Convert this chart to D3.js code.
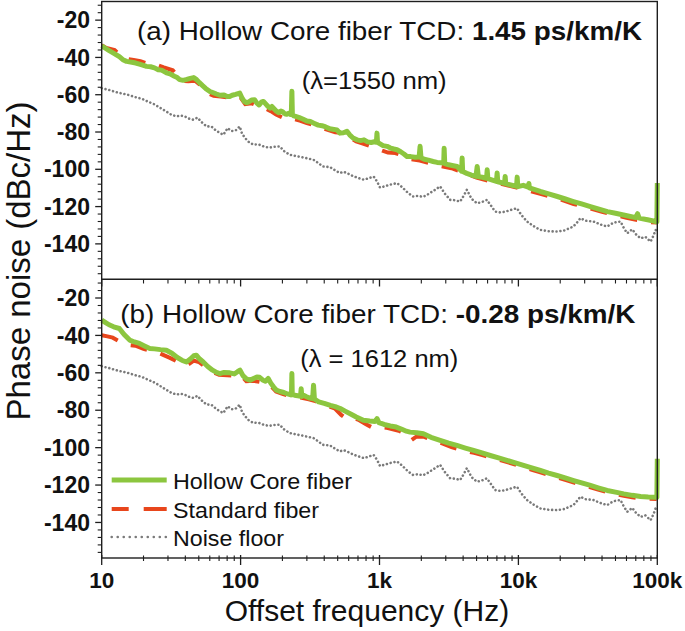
<!DOCTYPE html>
<html><head><meta charset="utf-8">
<script src="https://cdn.jsdelivr.net/npm/d3@7"></script>
<style>html,body{margin:0;padding:0;background:#fff;} svg{display:block;font-family:"Liberation Sans",Arial,Helvetica,sans-serif;}</style>
</head><body><svg id="chart" width="685" height="631"></svg>
<script>
// ---------- DATA ----------
const xTickValues = [10, 100, 1000, 10000, 100000];
const xTickLabels = ["10", "100", "1k", "10k", "100k"];
const yTickValues = [-20, -40, -60, -80, -100, -120, -140];
const seriesNames = ["Hollow Core fiber", "Standard fiber", "Noise floor"];
const panelTitles = [
  {label: "(a) Hollow Core fiber TCD: ", value: "1.45 ps/km/K", wl: "(\u03bb=1550 nm)"},
  {label: "(b) Hollow Core fiber TCD: ", value: "-0.28 ps/km/K", wl: "(\u03bb = 1612 nm)"}
];

// Panel (a) Hollow Core fiber [Hz, dBc/Hz]
const hollowA = [[10,-33.8],[10.7,-35.2],[11.4,-36.5],[12.5,-38.2],[13.4,-39.6],[14.2,-41.2],[15.1,-42.1],[16.5,-42.6],[17.6,-43],[18.7,-43.6],[20,-44.3],[21,-44.8],[22.5,-45],[24,-45.6],[25.5,-46.6],[27,-46.8],[29.3,-48.3],[31,-48.8],[33.4,-50.1],[35,-50.8],[36.4,-51.9],[38.5,-52.3],[41,-51.8],[43.5,-51.2],[45.9,-50.8],[48.2,-51.9],[50.5,-53.5],[53,-55],[56,-56.6],[59.8,-58.2],[63,-58.8],[67,-59.6],[71,-60.3],[76,-60.1],[80,-60.9],[83.4,-61],[87,-60.3],[92,-59.8],[98.5,-59.1],[102,-61.5],[106,-63.5],[110.6,-64.3],[115,-63.8],[120,-62.8],[126,-62.7],[131,-64.5],[136,-65.5],[141,-64],[146,-63.6],[151,-64.8],[157,-66.2],[163,-67.2],[168,-66.3],[174,-67.5],[181,-68.8],[188,-69.6],[195,-68.8],[201,-69.2],[208,-70.2],[215,-70.5],[222,-70],[229,-70.6],[232,-69.5],[234,-58.2],[236,-70.8],[242,-71.4],[252,-71.8],[265,-72.3],[280,-73],[300,-74.1],[318,-74.4],[340,-75.4],[362,-76.3],[385,-76.6],[410,-77.3],[440,-78.3],[470,-78.6],[494,-78.9],[520,-80.6],[550,-80.4],[583,-79.6],[610,-81.5],[645,-83.2],[688,-84.2],[730,-84.6],[773,-84.2],[820,-85.3],[870,-85.6],[920,-85.2],[950,-85.5],[959,-80.6],[968,-85.6],[1010,-86.4],[1060,-87.3],[1133,-87.7],[1200,-88.6],[1270,-89.1],[1337,-89.5],[1420,-90.6],[1500,-91.8],[1578,-93.1],[1680,-93.2],[1800,-93.5],[1930,-93.4],[1959,-87.7],[1990,-93.8],[2100,-94.6],[2250,-95.1],[2432,-95.8],[2600,-96.3],[2780,-96.5],[2900,-96.7],[2920,-88.7],[2950,-97],[3150,-97.6],[3400,-98.1],[3622,-98.5],[3800,-100.2],[3900,-101],[3935,-94],[3970,-101.2],[4250,-102.2],[4600,-103.1],[4950,-103.8],[5050,-98.5],[5150,-104],[5500,-104.3],[5900,-104.8],[5960,-100.3],[6030,-105],[6500,-105.8],[6950,-106.5],[7030,-102],[7100,-106.7],[7600,-107.2],[7950,-107.5],[8030,-103.9],[8110,-107.8],[8800,-108.4],[9700,-109.2],[9800,-104.2],[9900,-109.3],[10830,-108.6],[11800,-109.6],[11900,-107.6],[12000,-110],[14380,-111.9],[16500,-113.2],[19070,-114.6],[21500,-115.8],[24880,-117.3],[28500,-118.6],[33000,-120],[38000,-121.4],[43750,-122.7],[50000,-123.6],[57100,-124.5],[64000,-125.3],[70000,-125.9],[72060,-123.8],[74000,-126.2],[85100,-127.1],[92000,-127.6],[97300,-128],[99300,-128.2],[100000,-107.4]];

// Panel (a) Standard fiber
const standardA = [[10,-33.5],[10.8,-34.9],[12.4,-36.1],[13.5,-38.5],[15,-40.8],[17,-41.4],[19,-42],[21,-43.2],[24.6,-43.8],[28,-45.3],[32.5,-46.9],[35,-49.5],[38,-52.6],[42,-52.8],[47,-52.5],[52,-55.2],[58,-59.2],[64,-60.6],[72,-61],[82,-61.5],[92,-61.2],[100,-61.5],[108,-65],[120,-64.6],[135,-66.2],[150,-67.2],[165,-68.8],[180,-70.6],[200,-72.2],[215,-73.4],[240,-73],[270,-74],[300,-75.2],[340,-76.4],[400,-78.3],[480,-80.2],[540,-80.4],[600,-82.6],[680,-85],[760,-86.2],[850,-87.5],[950,-88.8],[1050,-90],[1150,-91],[1300,-91.3],[1500,-93],[1700,-94.6],[1950,-95.3],[2300,-96.7],[2800,-98.4],[3300,-99.4],[4000,-101.8],[5000,-104.4],[6000,-106],[7000,-107.2],[8300,-108.6],[10000,-110],[11500,-111.2],[14400,-113.2],[19000,-115.6],[25000,-118.6],[32000,-120.7],[40000,-122.8],[50000,-124.5],[60000,-126],[72000,-127.2],[85000,-128.2],[99000,-128.6]];

// Noise floor (same measurement in both panels)
const noiseFloor = [[10,-56.5],[11.5,-57.6],[13,-58.8],[15.4,-60],[17.5,-61.3],[19.5,-62.2],[21.4,-63.6],[24,-65.2],[27.7,-68],[31.7,-70.7],[34.6,-71.6],[37,-71.2],[39.5,-71.6],[42.5,-72.8],[45.6,-73.4],[49,-72.3],[52,-74.5],[56.9,-77],[61.5,-77],[67,-79.4],[75.1,-81.5],[80.7,-77.9],[86,-79.5],[92,-79.2],[98.5,-77],[102,-80.5],[107,-83],[115,-85.5],[123.7,-86.8],[134,-86.6],[146,-87.7],[160,-88.4],[175,-87.9],[191.5,-87.7],[205,-90.2],[226,-92.2],[250,-92.9],[280,-93.6],[310,-94.3],[335,-94.9],[360,-96.5],[391,-98.5],[440,-98.8],[480,-100.6],[519,-102],[550,-101.3],[583,-102],[640,-103.5],[700,-104.6],[773,-105.6],[840,-104.7],[908,-103.9],[960,-106.5],[1008,-109.8],[1080,-109.2],[1180,-108.3],[1337,-107.4],[1450,-109.5],[1600,-112.6],[1745,-114.6],[1900,-114.2],[2050,-114.8],[2201,-113.7],[2450,-111.5],[2733,-109.2],[2950,-113],[3227,-116.4],[3500,-116.6],[3810,-117.3],[4050,-114],[4258,-111],[4600,-115.8],[5027,-118.2],[5450,-117.6],[5934,-116.4],[6350,-119.5],[6812,-122.7],[7500,-123.2],[8400,-122.3],[9200,-121.4],[9772,-120.9],[10500,-124.5],[11535,-128],[12800,-130.4],[14390,-132.5],[16500,-133.2],[18990,-133.4],[21500,-132.8],[23500,-131.5],[24890,-130.7],[26500,-128.4],[27960,-126.2],[30500,-127.6],[34680,-128],[39000,-129.6],[43550,-130.7],[48500,-128.6],[54330,-128],[57500,-131.6],[60750,-134.3],[66000,-132.2],[70500,-135],[75780,-137],[82000,-136.2],[89470,-138.8],[94000,-135.5],[97200,-132.5],[100000,-134]];

// Panel (b) Hollow Core fiber
const hollowB = [[10,-31.8],[10.6,-33],[11.3,-34.3],[12.2,-35.4],[13.4,-36.3],[14.5,-39.5],[15.9,-42.5],[17.2,-43.5],[18.7,-44.3],[20.3,-45.6],[22.2,-47],[24,-47.2],[26.5,-47.6],[29.2,-47.9],[32,-49.5],[35,-51.8],[38,-53.4],[40.7,-54.2],[43.5,-52.6],[46,-50.9],[48,-50.6],[50.5,-52.5],[53.8,-54.2],[58,-56.6],[62.8,-58.6],[67,-59.8],[71,-60.4],[76,-59.8],[83.6,-60],[90,-60.6],[95,-59.4],[99,-58.6],[104,-61.5],[110,-63.2],[117,-64],[124,-63],[131,-62.2],[137,-62.4],[144,-63.8],[151,-64.5],[158,-63],[165,-65.5],[173,-67.6],[181,-69.3],[192,-70],[205,-70.5],[218,-71.3],[230,-71.8],[232.5,-70.5],[234,-60.4],[235.5,-71.5],[245,-72],[258,-72.3],[270,-72.5],[273,-68.5],[276,-72.6],[284,-72],[298,-72.8],[315,-73.5],[330,-73.8],[335,-66.6],[340,-74],[365,-75.5],[400,-76.3],[443,-77.4],[480,-78.1],[522,-79.1],[570,-80.6],[620,-82],[680,-83.6],[765,-85.4],[850,-85.8],[930,-86],[960,-84.5],[990,-86.6],[1080,-87.6],[1196,-88.4],[1320,-89],[1450,-90.2],[1560,-91.2],[1660,-91.7],[1850,-92],[2070,-92.6],[2350,-94.5],[2733,-96.1],[3150,-97.6],[3606,-98.8],[4150,-100.2],[4753,-101.5],[5400,-102.7],[6270,-104.2],[7200,-105.5],[8270,-106.8],[9500,-108.2],[10900,-109.5],[12500,-110.8],[14390,-112.2],[16500,-113.6],[18990,-114.9],[22000,-116.3],[25000,-117.6],[29000,-119],[33030,-120.2],[38000,-121.6],[43550,-122.9],[50000,-123.8],[57410,-124.7],[66000,-125.5],[75780,-126.1],[86000,-126.4],[97200,-126.5],[99300,-126.6],[100000,-105.9]];

// Panel (b) Standard fiber
const standardB = [[10,-39.9],[11,-40.5],[12,-41.2],[13.3,-43],[14.5,-44.5],[16,-45.2],[17.5,-45.5],[20,-47.2],[22,-48],[24.7,-48.8],[27.7,-50.4],[31,-52],[35,-54],[39,-56],[42,-55.5],[46,-53.5],[50,-54.2],[55,-56.5],[62,-59.5],[70,-61],[80,-61.3],[90,-61.5],[100,-61.2],[110,-64.5],[125,-64.3],[140,-65],[160,-66],[180,-70],[200,-71.2],[230,-72.6],[270,-73.2],[310,-74.2],[350,-75.3],[420,-77.5],[480,-79.2],[530,-82.5],[560,-83.8],[600,-83],[700,-85],[800,-87.5],[900,-89.5],[1000,-89],[1150,-89.5],[1400,-91.2],[1600,-93.5],[1700,-96],[1850,-94],[2100,-94.2],[2500,-96.5],[2800,-97.6],[3300,-99.7],[4000,-101.5],[4800,-102.8],[5500,-104],[6300,-105.2],[7500,-106.8],[8300,-107.7],[9500,-109],[10900,-110.5],[12500,-111.8],[14400,-113.2],[16500,-114.6],[19000,-116],[22000,-117.4],[25500,-118.8],[29000,-120.1],[33000,-121.2],[38000,-122.5],[43500,-123.8],[50000,-124.8],[57400,-125.8],[66000,-126.6],[76000,-127.2],[86000,-127.3],[99000,-127.5]];

// ---------- DRAWING ----------
const COLORS = {hollow: "#8cc63f", standard: "#e8461c", noise: "#7a7a7a", axis: "#1e1e1e"};
const svg = d3.select("#chart");
const L = 101.7, R = 657.3;
const x = d3.scaleLog().domain([10, 1e5]).range([L, R]);
const panels = [
  {top: 1.5, bottom: 279.3, hollow: hollowA, standard: standardA, noise: noiseFloor, title: panelTitles[0]},
  {top: 279.3, bottom: 558, hollow: hollowB, standard: standardB, noise: noiseFloor, title: panelTitles[1]}
];
panels.forEach(p => { p.y = d3.scaleLinear().domain([-159, -10]).range([p.bottom, p.top]); });

const minorX = [];
[10, 100, 1000, 10000].forEach(d => { for (let k = 2; k <= 9; k++) minorX.push(d * k); });

panels.forEach((p, i) => {
  const g = svg.append("g");
  const line = d3.line().x(d => x(d[0])).y(d => p.y(d[1]));
  g.append("path").datum(p.noise).attr("d", line).attr("fill", "none")
    .attr("stroke", COLORS.noise).attr("stroke-width", 2.6).attr("stroke-linecap", "round")
    .attr("stroke-dasharray", "0.01,3.9");
  g.append("path").datum(p.standard).attr("d", line).attr("fill", "none")
    .attr("stroke", COLORS.standard).attr("stroke-width", 4).attr("stroke-dasharray", "17,14");
  g.append("path").datum(p.hollow).attr("d", line).attr("fill", "none")
    .attr("stroke", COLORS.hollow).attr("stroke-width", 5).attr("stroke-linejoin", "round");

  // y ticks
  const majors = yTickValues;
  const minors = d3.range(-156, -10, 4).filter(v => v % 20 !== 0);
  g.selectAll(".ymin").data(minors).join("line")
    .attr("x1", L - 4).attr("x2", L).attr("y1", d => p.y(d)).attr("y2", d => p.y(d))
    .attr("stroke", COLORS.axis).attr("stroke-width", 1.1);
  g.selectAll(".ymaj").data(majors).join("line")
    .attr("x1", L - 6.5).attr("x2", L).attr("y1", d => p.y(d)).attr("y2", d => p.y(d))
    .attr("stroke", COLORS.axis).attr("stroke-width", 1.3);
  g.selectAll(".ylab").data(majors).join("text")
    .attr("x", 90).attr("y", d => p.y(d) + 8.2).attr("text-anchor", "end")
    .attr("font-size", 23).attr("font-weight", "bold").attr("fill", "#111").text(d => d);

  // titles
  const t = g.append("text").attr("font-size", 25).attr("fill", "#111");
  if (i === 0) t.attr("x", 137).attr("y", 40).attr("textLength", 505);
  else t.attr("x", 120.3).attr("y", 322.5).attr("textLength", 515);
  t.attr("lengthAdjust", "spacingAndGlyphs");
  t.append("tspan").text(p.title.label);
  t.append("tspan").attr("font-weight", "bold").text(p.title.value);
  const w = g.append("text").attr("font-size", 23).attr("fill", "#111").attr("lengthAdjust", "spacingAndGlyphs").text(p.title.wl);
  if (i === 0) w.attr("x", 301.7).attr("y", 88.5).attr("textLength", 145);
  else w.attr("x", 300.3).attr("y", 367).attr("textLength", 158);
});

// frame
const fr = svg.append("g").attr("stroke", COLORS.axis).attr("stroke-width", 1.4).attr("fill", "none");
fr.append("rect").attr("x", L).attr("y", 1.5).attr("width", R - L).attr("height", 558 - 1.5);
fr.append("line").attr("x1", L).attr("x2", R).attr("y1", 279.3).attr("y2", 279.3);

// x ticks at divider (into panel b) and at bottom
const xt = svg.append("g").attr("stroke", COLORS.axis);
xt.selectAll(".dmin").data(minorX).join("line").attr("x1", d => x(d)).attr("x2", d => x(d))
  .attr("y1", 279.3).attr("y2", 283.5).attr("stroke-width", 1.1);
xt.selectAll(".dmaj").data(xTickValues).join("line").attr("x1", d => x(d)).attr("x2", d => x(d))
  .attr("y1", 279.3).attr("y2", 286.5).attr("stroke-width", 1.3);
xt.selectAll(".bmin").data(minorX).join("line").attr("x1", d => x(d)).attr("x2", d => x(d))
  .attr("y1", 555.5).attr("y2", 561).attr("stroke-width", 1.1);
xt.selectAll(".bmaj").data(xTickValues).join("line").attr("x1", d => x(d)).attr("x2", d => x(d))
  .attr("y1", 555).attr("y2", 565).attr("stroke-width", 1.3);
svg.selectAll(".xlab").data(xTickValues).join("text")
  .attr("x", d => x(d)).attr("y", 588).attr("text-anchor", "middle")
  .attr("font-size", 22.5).attr("font-weight", "bold").attr("fill", "#111")
  .text((d, i) => xTickLabels[i]);

// axis titles
svg.append("text").attr("x", 367).attr("y", 621).attr("text-anchor", "middle")
  .attr("font-size", 30).attr("fill", "#111").text("Offset frequency (Hz)");
svg.append("text").attr("transform", "translate(30,261) rotate(-90)").attr("text-anchor", "middle")
  .attr("font-size", 33).attr("fill", "#111").text("Phase noise (dBc/Hz)");

// legend
const leg = svg.append("g");
const legY = [480, 509, 537];
const legLen = [179, 146, 111];
const legStyle = [
  {c: COLORS.hollow, w: 5, dash: null, cap: "butt"},
  {c: COLORS.standard, w: 4, dash: "17,15,23,40", cap: "butt"},
  {c: COLORS.noise, w: 2.6, dash: "0.01,6", cap: "round"}
];
seriesNames.forEach((name, i) => {
  const s = legStyle[i];
  const ln = leg.append("line").attr("x1", 111.7).attr("x2", 166.7).attr("y1", legY[i]).attr("y2", legY[i])
    .attr("stroke", s.c).attr("stroke-width", s.w).attr("stroke-linecap", s.cap);
  if (s.dash) ln.attr("stroke-dasharray", s.dash);
  leg.append("text").attr("x", 173).attr("y", legY[i] + 8.5).attr("font-size", 22).attr("fill", "#111")
    .attr("textLength", legLen[i]).attr("lengthAdjust", "spacingAndGlyphs").text(name);
});
</script></body></html>
